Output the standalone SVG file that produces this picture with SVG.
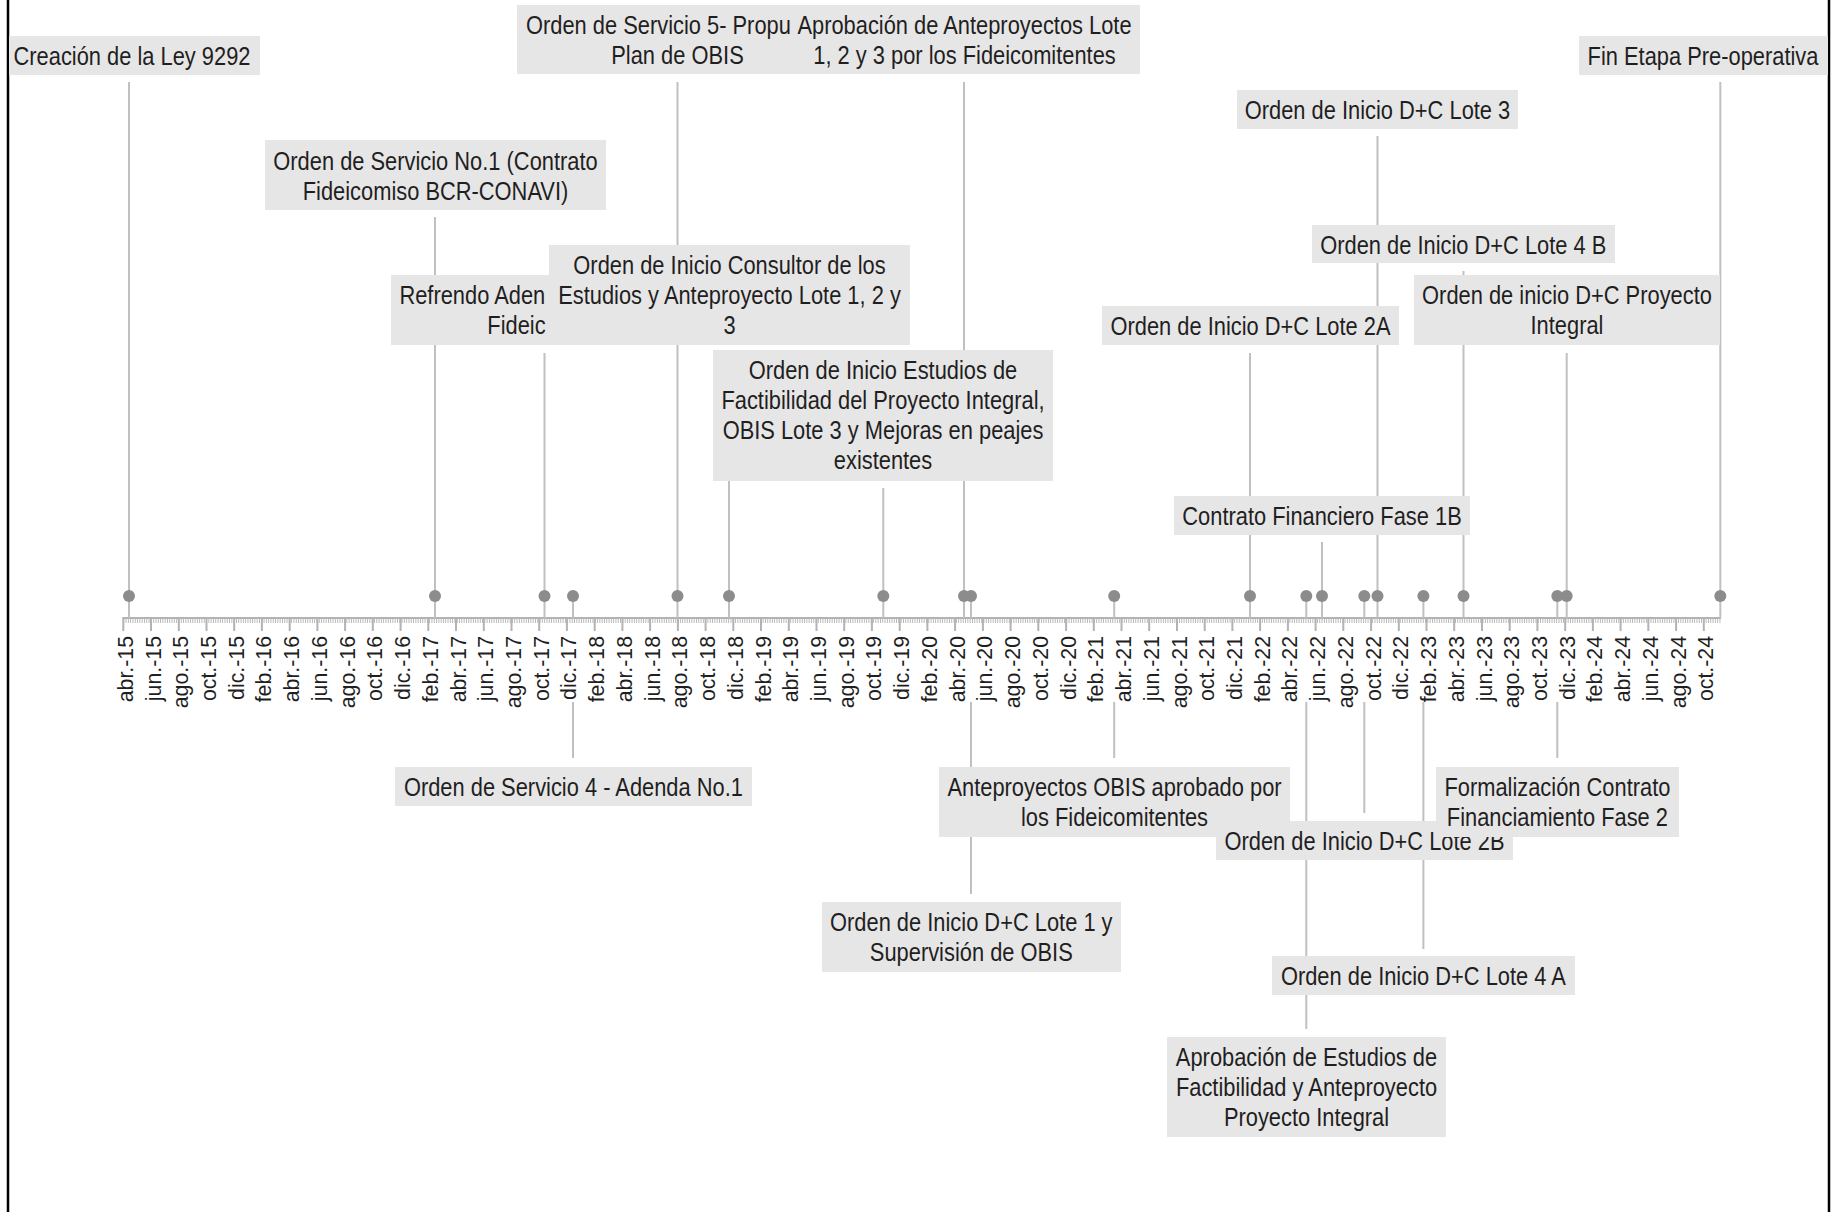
<svg xmlns="http://www.w3.org/2000/svg" width="1837" height="1212" viewBox="0 0 1837 1212">
<style>
.box{fill:#e7e6e6}
.t{font-family:"Liberation Sans",Arial,sans-serif;font-size:26.67px;fill:#1f1f1f;text-anchor:middle}
.tl{text-anchor:start}
.ax{font-family:"Liberation Sans",Arial,sans-serif;font-size:21.3px;fill:#1f1f1f;text-anchor:end}
.lead{stroke:#c0c0c0;stroke-width:2;fill:none}
.dot{fill:#8c8c8c}
.axis{stroke:#b3b3b3;fill:none}
</style>
<rect x="0" y="0" width="1837" height="1212" fill="#ffffff"/>
<line x1="8" y1="0" x2="8" y2="1212" stroke="#000" stroke-width="2.5"/>
<line x1="1829" y1="0" x2="1829" y2="1212" stroke="#000" stroke-width="2.5"/>

<g id="axis">
<line class="axis" x1="123.3" y1="618" x2="1721" y2="618" stroke-width="2"/>
<line class="axis" x1="123.3" y1="620.5" x2="1721" y2="620.5" stroke-width="5" stroke-dasharray="0.9 1.4"/>
<path class="axis" stroke-width="2" d="M123.3 617V631M151.0 617V631M178.8 617V631M206.5 617V631M234.2 617V631M261.9 617V631M289.7 617V631M317.4 617V631M345.1 617V631M372.8 617V631M400.6 617V631M428.3 617V631M456.0 617V631M483.8 617V631M511.5 617V631M539.2 617V631M566.9 617V631M594.7 617V631M622.4 617V631M650.1 617V631M677.9 617V631M705.6 617V631M733.3 617V631M761.0 617V631M788.8 617V631M816.5 617V631M844.2 617V631M871.9 617V631M899.7 617V631M927.4 617V631M955.1 617V631M982.9 617V631M1010.6 617V631M1038.3 617V631M1066.1 617V631M1093.8 617V631M1121.5 617V631M1149.2 617V631M1177.0 617V631M1204.7 617V631M1232.4 617V631M1260.1 617V631M1287.9 617V631M1315.6 617V631M1343.3 617V631M1371.1 617V631M1398.8 617V631M1426.5 617V631M1454.2 617V631M1482.0 617V631M1509.7 617V631M1537.4 617V631M1565.2 617V631M1592.9 617V631M1620.6 617V631M1648.3 617V631M1676.1 617V631M1703.8 617V631"/>
<g transform="rotate(-90)">
<text class="ax" x="-636" y="132.8">abr.-15</text>
<text class="ax" x="-636" y="160.5">jun.-15</text>
<text class="ax" x="-636" y="188.3">ago.-15</text>
<text class="ax" x="-636" y="216.0">oct.-15</text>
<text class="ax" x="-636" y="243.7">dic.-15</text>
<text class="ax" x="-636" y="271.4">feb.-16</text>
<text class="ax" x="-636" y="299.2">abr.-16</text>
<text class="ax" x="-636" y="326.9">jun.-16</text>
<text class="ax" x="-636" y="354.6">ago.-16</text>
<text class="ax" x="-636" y="382.3">oct.-16</text>
<text class="ax" x="-636" y="410.1">dic.-16</text>
<text class="ax" x="-636" y="437.8">feb.-17</text>
<text class="ax" x="-636" y="465.5">abr.-17</text>
<text class="ax" x="-636" y="493.3">jun.-17</text>
<text class="ax" x="-636" y="521.0">ago.-17</text>
<text class="ax" x="-636" y="548.7">oct.-17</text>
<text class="ax" x="-636" y="576.4">dic.-17</text>
<text class="ax" x="-636" y="604.2">feb.-18</text>
<text class="ax" x="-636" y="631.9">abr.-18</text>
<text class="ax" x="-636" y="659.6">jun.-18</text>
<text class="ax" x="-636" y="687.4">ago.-18</text>
<text class="ax" x="-636" y="715.1">oct.-18</text>
<text class="ax" x="-636" y="742.8">dic.-18</text>
<text class="ax" x="-636" y="770.5">feb.-19</text>
<text class="ax" x="-636" y="798.3">abr.-19</text>
<text class="ax" x="-636" y="826.0">jun.-19</text>
<text class="ax" x="-636" y="853.7">ago.-19</text>
<text class="ax" x="-636" y="881.4">oct.-19</text>
<text class="ax" x="-636" y="909.2">dic.-19</text>
<text class="ax" x="-636" y="936.9">feb.-20</text>
<text class="ax" x="-636" y="964.6">abr.-20</text>
<text class="ax" x="-636" y="992.4">jun.-20</text>
<text class="ax" x="-636" y="1020.1">ago.-20</text>
<text class="ax" x="-636" y="1047.8">oct.-20</text>
<text class="ax" x="-636" y="1075.6">dic.-20</text>
<text class="ax" x="-636" y="1103.3">feb.-21</text>
<text class="ax" x="-636" y="1131.0">abr.-21</text>
<text class="ax" x="-636" y="1158.7">jun.-21</text>
<text class="ax" x="-636" y="1186.5">ago.-21</text>
<text class="ax" x="-636" y="1214.2">oct.-21</text>
<text class="ax" x="-636" y="1241.9">dic.-21</text>
<text class="ax" x="-636" y="1269.6">feb.-22</text>
<text class="ax" x="-636" y="1297.4">abr.-22</text>
<text class="ax" x="-636" y="1325.1">jun.-22</text>
<text class="ax" x="-636" y="1352.8">ago.-22</text>
<text class="ax" x="-636" y="1380.6">oct.-22</text>
<text class="ax" x="-636" y="1408.3">dic.-22</text>
<text class="ax" x="-636" y="1436.0">feb.-23</text>
<text class="ax" x="-636" y="1463.7">abr.-23</text>
<text class="ax" x="-636" y="1491.5">jun.-23</text>
<text class="ax" x="-636" y="1519.2">ago.-23</text>
<text class="ax" x="-636" y="1546.9">oct.-23</text>
<text class="ax" x="-636" y="1574.7">dic.-23</text>
<text class="ax" x="-636" y="1602.4">feb.-24</text>
<text class="ax" x="-636" y="1630.1">abr.-24</text>
<text class="ax" x="-636" y="1657.8">jun.-24</text>
<text class="ax" x="-636" y="1685.6">ago.-24</text>
<text class="ax" x="-636" y="1713.3">oct.-24</text>
</g>
</g>

<g id="connectors">
<line class="lead" x1="129" y1="82" x2="129" y2="618"/>
<line class="lead" x1="435" y1="217" x2="435" y2="618"/>
<line class="lead" x1="544.5" y1="353" x2="544.5" y2="618"/>
<line class="lead" x1="677.5" y1="82" x2="677.5" y2="618"/>
<line class="lead" x1="729" y1="353" x2="729" y2="618"/>
<line class="lead" x1="883.3" y1="488" x2="883.3" y2="618"/>
<line class="lead" x1="964" y1="82" x2="964" y2="618"/>
<line class="lead" x1="1250" y1="353" x2="1250" y2="618"/>
<line class="lead" x1="1322" y1="542" x2="1322" y2="618"/>
<line class="lead" x1="1377.5" y1="136" x2="1377.5" y2="618"/>
<line class="lead" x1="1463.5" y1="271" x2="1463.5" y2="618"/>
<line class="lead" x1="1566.7" y1="353" x2="1566.7" y2="618"/>
<line class="lead" x1="1720.3" y1="82" x2="1720.3" y2="618"/>
<path class="lead" d="M573 596V618M573 702V758"/>
<path class="lead" d="M1114.2 596V618M1114.2 702V758"/>
<path class="lead" d="M971 596V618M971 702V894"/>
<path class="lead" d="M1557.3 596V618M1557.3 702V758"/>
<path class="lead" d="M1364.3 596V618M1364.3 702V813"/>
<path class="lead" d="M1423.4 596V618M1423.4 702V949"/>
<path class="lead" d="M1306.3 596V618M1306.3 702V1029"/>
</g>

<g id="points">
<circle class="dot" cx="129" cy="596" r="6"/>
<circle class="dot" cx="435" cy="596" r="6"/>
<circle class="dot" cx="544.5" cy="596" r="6"/>
<circle class="dot" cx="573" cy="596" r="6"/>
<circle class="dot" cx="677.5" cy="596" r="6"/>
<circle class="dot" cx="729" cy="596" r="6"/>
<circle class="dot" cx="883.3" cy="596" r="6"/>
<circle class="dot" cx="964" cy="596" r="6"/>
<circle class="dot" cx="971" cy="596" r="6"/>
<circle class="dot" cx="1114.2" cy="596" r="6"/>
<circle class="dot" cx="1250" cy="596" r="6"/>
<circle class="dot" cx="1306.3" cy="596" r="6"/>
<circle class="dot" cx="1322" cy="596" r="6"/>
<circle class="dot" cx="1364.3" cy="596" r="6"/>
<circle class="dot" cx="1377.5" cy="596" r="6"/>
<circle class="dot" cx="1423.4" cy="596" r="6"/>
<circle class="dot" cx="1463.5" cy="596" r="6"/>
<circle class="dot" cx="1557.3" cy="596" r="6"/>
<circle class="dot" cx="1566.7" cy="596" r="6"/>
<circle class="dot" cx="1720.3" cy="596" r="6"/>
</g>

<g id="n-creacion"><rect class="box" x="9" y="36" width="251" height="39"/><text class="t" transform="matrix(0.82 0 0 1 132 65)">Creación de la Ley 9292</text></g>
<g id="n-os1"><rect class="box" x="265" y="140" width="341" height="70"/><text class="t" transform="matrix(0.82 0 0 1 435.5 170)">Orden de Servicio No.1 (Contrato</text><text class="t" transform="matrix(0.82 0 0 1 435.5 200)">Fideicomiso BCR-CONAVI)</text></g>
<g id="n-refrendo"><rect class="box" x="391" y="275" width="320" height="70"/><text class="t tl" transform="matrix(0.82 0 0 1 399.4 304)">Refrendo Aden</text><text class="t tl" transform="matrix(0.82 0 0 1 487.3 334)">Fideic</text></g>
<g id="n-consultor"><rect class="box" x="549" y="245" width="361" height="100"/><text class="t" transform="matrix(0.82 0 0 1 729.5 274)">Orden de Inicio Consultor de los</text><text class="t" transform="matrix(0.82 0 0 1 729.5 304)">Estudios y Anteproyecto Lote 1, 2 y</text><text class="t" transform="matrix(0.82 0 0 1 729.5 334)">3</text></g>
<g id="n-os5"><rect class="box" x="517" y="5" width="320" height="69"/><text class="t tl" transform="matrix(0.82 0 0 1 526 34)">Orden de Servicio 5- Propu</text><text class="t" transform="matrix(0.82 0 0 1 677.5 64)">Plan de OBIS</text></g>
<g id="n-aprob-ante"><rect class="box" x="795" y="5" width="345" height="69"/><text class="t" transform="matrix(0.82 0 0 1 964.5 34)">Aprobación de Anteproyectos Lote</text><text class="t" transform="matrix(0.82 0 0 1 964.5 64)">1, 2 y 3 por los Fideicomitentes</text></g>
<g id="n-fin"><rect class="box" x="1579" y="36" width="249" height="39"/><text class="t" transform="matrix(0.82 0 0 1 1703 65)">Fin Etapa Pre-operativa</text></g>
<g id="n-lote3"><rect class="box" x="1237" y="90" width="281" height="39"/><text class="t" transform="matrix(0.82 0 0 1 1377.5 119)">Orden de Inicio D+C Lote 3</text></g>
<g id="n-lote4b"><rect class="box" x="1312" y="225" width="303" height="38"/><text class="t" transform="matrix(0.82 0 0 1 1463.3 254)">Orden de Inicio D+C Lote 4 B</text></g>
<g id="n-proyecto"><rect class="box" x="1414" y="275" width="306" height="70"/><text class="t" transform="matrix(0.82 0 0 1 1567 304)">Orden de inicio D+C Proyecto</text><text class="t" transform="matrix(0.82 0 0 1 1567 334)">Integral</text></g>
<g id="n-lote2a"><rect class="box" x="1102" y="306" width="297" height="39"/><text class="t" transform="matrix(0.82 0 0 1 1250.5 335)">Orden de Inicio D+C Lote 2A</text></g>
<g id="n-fase1b"><rect class="box" x="1174" y="496" width="296" height="39"/><text class="t" transform="matrix(0.82 0 0 1 1322 525)">Contrato Financiero Fase 1B</text></g>
<g id="n-factibilidad"><rect class="box" x="713" y="350" width="340" height="131"/><text class="t" transform="matrix(0.82 0 0 1 883 379)">Orden de Inicio Estudios de</text><text class="t" transform="matrix(0.82 0 0 1 883 409)">Factibilidad del Proyecto Integral,</text><text class="t" transform="matrix(0.82 0 0 1 883 439)">OBIS Lote 3 y Mejoras en peajes</text><text class="t" transform="matrix(0.82 0 0 1 883 469)">existentes</text></g>

<g id="n-os4"><rect class="box" x="395" y="767" width="357" height="39"/><text class="t" transform="matrix(0.82 0 0 1 573.4 796)">Orden de Servicio 4 - Adenda No.1</text></g>
<g id="n-ante-obis"><rect class="box" x="939" y="767" width="351" height="70"/><text class="t" transform="matrix(0.82 0 0 1 1114.5 796)">Anteproyectos OBIS aprobado por</text><text class="t" transform="matrix(0.82 0 0 1 1114.5 826)">los Fideicomitentes</text></g>
<g id="n-lote1"><rect class="box" x="822" y="902" width="299" height="70"/><text class="t" transform="matrix(0.82 0 0 1 971.3 931)">Orden de Inicio D+C Lote 1 y</text><text class="t" transform="matrix(0.82 0 0 1 971.3 961)">Supervisión de OBIS</text></g>
<g id="n-lote2b"><rect class="box" x="1216" y="821" width="297" height="39"/><text class="t" transform="matrix(0.82 0 0 1 1364.5 850)">Orden de Inicio D+C Lote 2B</text></g>
<g id="n-fase2"><rect class="box" x="1436" y="767" width="243" height="70"/><text class="t" transform="matrix(0.82 0 0 1 1557.4 796)">Formalización Contrato</text><text class="t" transform="matrix(0.82 0 0 1 1557.4 826)">Financiamiento Fase 2</text></g>
<g id="n-lote4a"><rect class="box" x="1272" y="956" width="303" height="39"/><text class="t" transform="matrix(0.82 0 0 1 1423.4 985)">Orden de Inicio D+C Lote 4 A</text></g>
<g id="n-aprob-est"><rect class="box" x="1167" y="1037" width="279" height="100"/><text class="t" transform="matrix(0.82 0 0 1 1306.5 1066)">Aprobación de Estudios de</text><text class="t" transform="matrix(0.82 0 0 1 1306.5 1096)">Factibilidad y Anteproyecto</text><text class="t" transform="matrix(0.82 0 0 1 1306.5 1126)">Proyecto Integral</text></g>
</svg>
